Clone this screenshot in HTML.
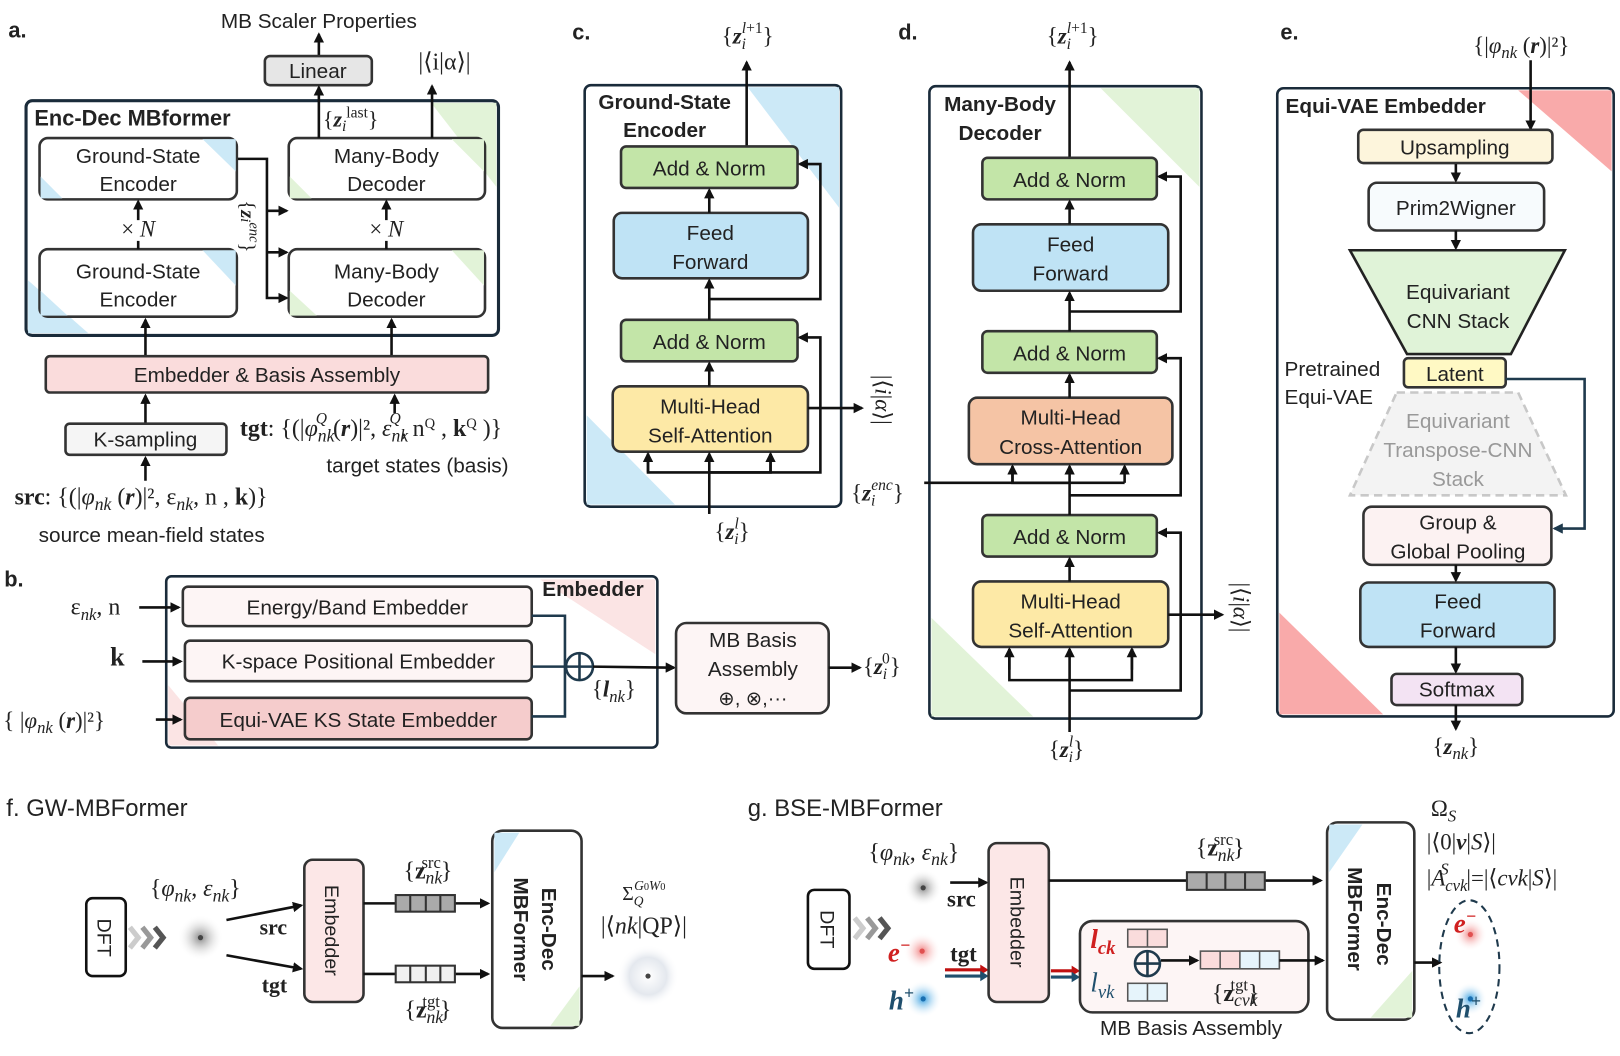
<!DOCTYPE html>
<html><head><meta charset="utf-8"><style>
html,body{margin:0;padding:0;background:#fff;}
svg{display:block;}
text{font-family:"Liberation Sans",sans-serif;fill:#222;}
.m{font-family:"Liberation Serif",serif;}
.b{font-weight:bold;}
.bx{stroke:#333;stroke-width:2.5;}
.ln{stroke:#111;stroke-width:2.5;fill:none;}
</style></head><body>
<svg width="1620" height="1056" viewBox="0 0 1560 1017" xmlns="http://www.w3.org/2000/svg">
<defs>
<marker id="a" viewBox="0 0 10 10" refX="8" refY="5" markerWidth="4" markerHeight="4" orient="auto-start-reverse"><path d="M0,0L10,5L0,10z" fill="#111"/></marker>
<marker id="an" viewBox="0 0 10 10" refX="8" refY="5" markerWidth="4" markerHeight="4" orient="auto"><path d="M0,0L10,5L0,10z" fill="#1f3a4d"/></marker>
<radialGradient id="gg"><stop offset="0" stop-color="#888"/><stop offset="1" stop-color="#fff" stop-opacity="0"/></radialGradient>
<radialGradient id="gr"><stop offset="0" stop-color="#f08080"/><stop offset="1" stop-color="#fff" stop-opacity="0"/></radialGradient>
<radialGradient id="gb"><stop offset="0" stop-color="#3aa0e0"/><stop offset="1" stop-color="#fff" stop-opacity="0"/></radialGradient>
<radialGradient id="gc"><stop offset="0" stop-color="#fff"/><stop offset="0.6" stop-color="#e4e8ee"/><stop offset="1" stop-color="#fff" stop-opacity="0"/></radialGradient>
</defs>

<!-- ===== Panel a ===== -->
<text x="8" y="36" font-size="21" class="b">a.</text>
<text x="307" y="27" font-size="20" text-anchor="middle">MB Scaler Properties</text>
<line x1="307" y1="54" x2="307" y2="33" class="ln" marker-end="url(#a)"/>
<rect x="255" y="54" width="103" height="28" rx="5" fill="#e6e6e6" class="bx"/>
<text x="306" y="75" font-size="20" text-anchor="middle">Linear</text>
<text x="428" y="67" font-size="23" class="m" text-anchor="middle">|⟨i|α⟩|</text>
<rect x="25" y="97" width="455" height="226" rx="6" fill="#fff" stroke="#1a2b3a" stroke-width="3"/>
<polygon points="27,270 27,321 85,321" fill="#cce9f7"/>
<polygon points="415,99 478,99 478,180" fill="#e2f3d8"/>
<text x="33" y="121" font-size="21" class="b">Enc-Dec MBformer</text>
<g font-size="20" text-anchor="middle">
<rect x="38" y="133" width="190" height="59" rx="8" fill="#fff" class="bx"/>
<polygon points="39,170 39,191 60,191" fill="#cce9f7"/><polygon points="195,134 227,134 227,165" fill="#cce9f7"/>
<text x="133" y="157">Ground-State</text><text x="133" y="184">Encoder</text>
<rect x="38" y="240" width="190" height="65" rx="8" fill="#fff" class="bx"/>
<polygon points="39,280 39,304 65,304" fill="#cce9f7"/><polygon points="195,241 227,241 227,275" fill="#cce9f7"/>
<text x="133" y="268">Ground-State</text><text x="133" y="295">Encoder</text>
<rect x="278" y="133" width="189" height="59" rx="8" fill="#fff" class="bx"/>
<polygon points="279,170 279,191 300,191" fill="#e2f3d8"/><polygon points="435,134 466,134 466,165" fill="#e2f3d8"/>
<text x="372" y="157">Many-Body</text><text x="372" y="184">Decoder</text>
<rect x="278" y="240" width="189" height="65" rx="8" fill="#fff" class="bx"/>
<polygon points="279,280 279,304 305,304" fill="#e2f3d8"/><polygon points="435,241 466,241 466,275" fill="#e2f3d8"/>
<text x="372" y="268">Many-Body</text><text x="372" y="295">Decoder</text>
</g>
<line x1="133" y1="212" x2="133" y2="194" class="ln" marker-end="url(#a)"/>
<line x1="133" y1="240" x2="133" y2="232" class="ln"/>
<text x="133" y="228" font-size="22" text-anchor="middle" class="m">× <tspan font-style="italic">N</tspan></text>
<line x1="372" y1="212" x2="372" y2="194" class="ln" marker-end="url(#a)"/>
<line x1="372" y1="240" x2="372" y2="232" class="ln"/>
<text x="372" y="228" font-size="22" text-anchor="middle" class="m">× <tspan font-style="italic">N</tspan></text>
<polyline points="229,153 257,153 257,287 276,287" class="ln" marker-end="url(#a)"/>
<line x1="257" y1="203" x2="276" y2="203" class="ln" marker-end="url(#a)"/>
<line x1="257" y1="243" x2="276" y2="243" class="ln" marker-end="url(#a)"/>
<text transform="translate(232,218) rotate(90)" font-size="20" text-anchor="middle" class="m">{<tspan font-weight="bold" font-style="italic">z</tspan><tspan font-size="14" font-style="italic">i</tspan><tspan font-size="14" dy="-8" font-style="italic">enc</tspan><tspan dy="8">}</tspan></text>
<line x1="307" y1="133" x2="307" y2="84" class="ln" marker-end="url(#a)"/>
<line x1="416" y1="133" x2="416" y2="83" class="ln" marker-end="url(#a)"/>
<text x="311" y="122" font-size="21" class="m">{<tspan font-weight="bold" font-style="italic">z</tspan><tspan font-size="15" font-style="italic" dy="4">i</tspan><tspan font-size="15" dy="-13">last</tspan><tspan dy="9">}</tspan></text>
<line x1="140" y1="343" x2="140" y2="308" class="ln" marker-end="url(#a)"/>
<line x1="377" y1="343" x2="377" y2="308" class="ln" marker-end="url(#a)"/>
<rect x="44" y="343" width="426" height="35" rx="4" fill="#fadcdc" class="bx"/>
<text x="257" y="368" font-size="20" text-anchor="middle">Embedder &amp; Basis Assembly</text>
<line x1="140" y1="408" x2="140" y2="381" class="ln" marker-end="url(#a)"/>
<line x1="380" y1="398" x2="380" y2="381" class="ln" marker-end="url(#a)"/>
<rect x="63" y="408" width="155" height="30" rx="4" fill="#f5f5f5" class="bx"/>
<text x="140" y="430" font-size="20" text-anchor="middle">K-sampling</text>
<line x1="140" y1="463" x2="140" y2="441" class="ln" marker-end="url(#a)"/>
<text x="14" y="486" font-size="23" class="m"><tspan font-weight="bold">src</tspan>: {(|<tspan font-style="italic">φ</tspan><tspan font-size="17" font-style="italic" dy="5">nk</tspan><tspan dy="-5"> (</tspan><tspan font-weight="bold" font-style="italic">r</tspan>)|², ε<tspan font-size="17" font-style="italic" dy="5">nk</tspan><tspan dy="-5">, n , </tspan><tspan font-weight="bold">k</tspan>)}</text>
<text x="146" y="522" font-size="20" text-anchor="middle">source mean-field states</text>
<text x="231" y="420" font-size="23" class="m"><tspan font-weight="bold">tgt</tspan>: {(|<tspan font-style="italic">φ</tspan><tspan font-size="17" font-style="italic" dy="5">nk</tspan><tspan font-size="15" font-style="italic" dx="-18" dy="-17">Q</tspan><tspan dy="12"> (</tspan><tspan font-weight="bold" font-style="italic">r</tspan>)|², <tspan font-style="italic">ε</tspan><tspan font-size="17" font-style="italic" dy="5">nk</tspan><tspan font-size="15" font-style="italic" dx="-18" dy="-17">Q</tspan><tspan dy="12">, n</tspan><tspan font-size="14" dy="-8">Q</tspan><tspan dy="8"> , </tspan><tspan font-weight="bold">k</tspan><tspan font-size="14" dy="-8">Q</tspan><tspan dy="8"> )}</tspan></text>
<text x="402" y="455" font-size="20" text-anchor="middle">target states (basis)</text>

<!-- ===== Panel b ===== -->
<text x="4" y="565" font-size="21" class="b">b.</text>
<rect x="160" y="555" width="473" height="165" rx="5" fill="#fff" stroke="#1a2b3a" stroke-width="2.5"/>
<polygon points="520,558 631,558 631,630" fill="#fbe4e4"/>
<polygon points="162,660 162,718 210,718" fill="#fbe4e4"/>
<text x="571" y="574" font-size="20" class="b" text-anchor="middle">Embedder</text>
<rect x="176" y="565" width="336" height="38" rx="5" fill="#fdf5f5" class="bx"/>
<text x="344" y="592" font-size="20" text-anchor="middle">Energy/Band Embedder</text>
<rect x="178" y="617" width="334" height="39" rx="5" fill="#fdf5f5" class="bx"/>
<text x="345" y="644" font-size="20" text-anchor="middle">K-space Positional Embedder</text>
<rect x="178" y="672" width="334" height="40" rx="5" fill="#f5cccc" class="bx"/>
<text x="345" y="700" font-size="20" text-anchor="middle">Equi-VAE KS State Embedder</text>
<polyline points="512,593 544,593 544,690 512,690" stroke="#1f3a4d" stroke-width="2.5" fill="none"/>
<line x1="512" y1="642" x2="545" y2="642" stroke="#1f3a4d" stroke-width="2.5"/>
<circle cx="558" cy="642" r="13" fill="none" stroke="#1f3a4d" stroke-width="2.5"/>
<line x1="545" y1="642" x2="571" y2="642" stroke="#1f3a4d" stroke-width="2.5"/><line x1="558" y1="629" x2="558" y2="655" stroke="#1f3a4d" stroke-width="2.5"/>
<line x1="571" y1="642" x2="649" y2="643" class="ln" marker-end="url(#a)"/>
<text x="570" y="671" font-size="22" class="m">{<tspan font-weight="bold" font-style="italic">l</tspan><tspan font-size="16" font-style="italic" dy="5">nk</tspan><tspan dy="-5">}</tspan></text>
<rect x="651" y="600" width="147" height="87" rx="10" fill="#fdf5f5" class="bx"/>
<text x="725" y="623" font-size="20" text-anchor="middle">MB Basis</text>
<text x="725" y="651" font-size="20" text-anchor="middle">Assembly</text>
<text x="725" y="679" font-size="19" text-anchor="middle">⊕, ⊗,···</text>
<line x1="798" y1="643" x2="828" y2="643" class="ln" marker-end="url(#a)"/>
<text x="831" y="649" font-size="22" class="m">{<tspan font-weight="bold" font-style="italic">z</tspan><tspan font-size="15" font-style="italic" dy="5">i</tspan><tspan font-size="15" dx="-5" dy="-15">0</tspan><tspan dy="10">}</tspan></text>
<text x="68" y="592" font-size="23" class="m">ε<tspan font-size="16" font-style="italic" dy="5">nk</tspan><tspan dy="-5">, n</tspan></text>
<line x1="134" y1="585" x2="172" y2="585" class="ln" marker-end="url(#a)"/>
<text x="106" y="641" font-size="25" class="m b">k</text>
<line x1="137" y1="637" x2="174" y2="637" class="ln" marker-end="url(#a)"/>
<text x="3" y="701" font-size="22" class="m">{ |<tspan font-style="italic">φ</tspan><tspan font-size="16" font-style="italic" dy="5">nk</tspan><tspan dy="-5"> (</tspan><tspan font-weight="bold" font-style="italic">r</tspan>)|²}</text>
<line x1="150" y1="693" x2="174" y2="693" class="ln" marker-end="url(#a)"/>

<!-- ===== Panel c ===== -->
<text x="551" y="38" font-size="21" class="b">c.</text>
<rect x="563" y="82" width="247" height="406" rx="6" fill="#fff" stroke="#1a2b3a" stroke-width="2.5"/>
<polygon points="720,84 808,84 808,200" fill="#cce9f7"/>
<polygon points="565,400 565,486 650,486" fill="#cce9f7"/>
<text x="640" y="105" font-size="20" class="b" text-anchor="middle">Ground-State</text>
<text x="640" y="132" font-size="20" class="b" text-anchor="middle">Encoder</text>
<line x1="719" y1="141" x2="719" y2="60" class="ln" marker-end="url(#a)"/>
<text x="720" y="42" font-size="22" class="m" text-anchor="middle">{<tspan font-weight="bold" font-style="italic">z</tspan><tspan font-size="15" font-style="italic" dy="5">i</tspan><tspan font-size="15" font-style="italic" dx="-4" dy="-15">l</tspan><tspan font-size="15">+1</tspan><tspan dy="10">}</tspan></text>
<g font-size="20" text-anchor="middle">
<rect x="598" y="141" width="170" height="40" rx="5" fill="#c3e5a8" class="bx"/><text x="683" y="169">Add &amp; Norm</text>
<rect x="591" y="205" width="187" height="63" rx="8" fill="#bfe3f5" class="bx"/><text x="684" y="231">Feed</text><text x="684" y="259">Forward</text>
<rect x="598" y="308" width="170" height="40" rx="5" fill="#c3e5a8" class="bx"/><text x="683" y="336">Add &amp; Norm</text>
<rect x="590" y="372" width="188" height="63" rx="8" fill="#fde9a6" class="bx"/><text x="684" y="398">Multi-Head</text><text x="684" y="426">Self-Attention</text>
</g>
<line x1="683" y1="205" x2="683" y2="183" class="ln" marker-end="url(#a)"/>
<line x1="683" y1="308" x2="683" y2="270" class="ln" marker-end="url(#a)"/>
<line x1="683" y1="372" x2="683" y2="350" class="ln" marker-end="url(#a)"/>
<polyline points="683,288 790,288 790,158 770,158" class="ln" marker-end="url(#a)"/>
<polyline points="683,455 790,455 790,325 770,325" class="ln" marker-end="url(#a)"/>
<line x1="683" y1="495" x2="683" y2="437" class="ln" marker-end="url(#a)"/>
<polyline points="624,437 624,455 742,455 742,437" class="ln"/>
<line x1="624" y1="455" x2="624" y2="437" class="ln" marker-end="url(#a)"/>
<line x1="742" y1="455" x2="742" y2="437" class="ln" marker-end="url(#a)"/>
<text x="705" y="519" font-size="22" class="m" text-anchor="middle">{<tspan font-weight="bold" font-style="italic">z</tspan><tspan font-size="15" font-style="italic" dy="5">i</tspan><tspan font-size="15" font-style="italic" dx="-4" dy="-15">l</tspan><tspan dy="10">}</tspan></text>
<line x1="778" y1="393" x2="830" y2="393" class="ln" marker-end="url(#a)"/>
<text transform="translate(843,385) rotate(90)" font-size="22" class="m" text-anchor="middle">|⟨<tspan font-style="italic">i</tspan>|<tspan font-style="italic">α</tspan>⟩|</text>

<!-- ===== Panel d ===== -->
<text x="865" y="38" font-size="21" class="b">d.</text>
<rect x="895" y="83" width="262" height="609" rx="6" fill="#fff" stroke="#1a2b3a" stroke-width="2.5"/>
<polygon points="1060,85 1155,85 1155,180" fill="#e2f3d8"/>
<polygon points="897,595 897,690 995,690" fill="#e2f3d8"/>
<text x="963" y="107" font-size="20" class="b" text-anchor="middle">Many-Body</text>
<text x="963" y="135" font-size="20" class="b" text-anchor="middle">Decoder</text>
<line x1="1030" y1="152" x2="1030" y2="60" class="ln" marker-end="url(#a)"/>
<text x="1033" y="42" font-size="22" class="m" text-anchor="middle">{<tspan font-weight="bold" font-style="italic">z</tspan><tspan font-size="15" font-style="italic" dy="5">i</tspan><tspan font-size="15" font-style="italic" dx="-4" dy="-15">l</tspan><tspan font-size="15">+1</tspan><tspan dy="10">}</tspan></text>
<g font-size="20" text-anchor="middle">
<rect x="946" y="152" width="168" height="40" rx="5" fill="#c3e5a8" class="bx"/><text x="1030" y="180">Add &amp; Norm</text>
<rect x="937" y="216" width="188" height="64" rx="8" fill="#bfe3f5" class="bx"/><text x="1031" y="242">Feed</text><text x="1031" y="270">Forward</text>
<rect x="946" y="319" width="168" height="40" rx="5" fill="#c3e5a8" class="bx"/><text x="1030" y="347">Add &amp; Norm</text>
<rect x="933" y="383" width="196" height="64" rx="8" fill="#f5c4a5" class="bx"/><text x="1031" y="409">Multi-Head</text><text x="1031" y="437">Cross-Attention</text>
<rect x="946" y="496" width="168" height="40" rx="5" fill="#c3e5a8" class="bx"/><text x="1030" y="524">Add &amp; Norm</text>
<rect x="937" y="560" width="188" height="63" rx="8" fill="#fde9a6" class="bx"/><text x="1031" y="586">Multi-Head</text><text x="1031" y="614">Self-Attention</text>
</g>
<line x1="1030" y1="216" x2="1030" y2="194" class="ln" marker-end="url(#a)"/>
<line x1="1030" y1="319" x2="1030" y2="282" class="ln" marker-end="url(#a)"/>
<line x1="1030" y1="383" x2="1030" y2="361" class="ln" marker-end="url(#a)"/>
<line x1="1030" y1="496" x2="1030" y2="449" class="ln" marker-end="url(#a)"/>
<line x1="1030" y1="560" x2="1030" y2="538" class="ln" marker-end="url(#a)"/>
<polyline points="1030,300 1137,300 1137,170 1116,170" class="ln" marker-end="url(#a)"/>
<polyline points="1030,477 1137,477 1137,345 1116,345" class="ln" marker-end="url(#a)"/>
<polyline points="1030,665 1137,665 1137,513 1116,513" class="ln" marker-end="url(#a)"/>
<polyline points="975,449 975,465 1030,465" class="ln"/>
<line x1="975" y1="465" x2="975" y2="449" class="ln" marker-end="url(#a)"/>
<line x1="890" y1="465" x2="1083" y2="465" class="ln"/>
<line x1="1083" y1="465" x2="1083" y2="449" class="ln" marker-end="url(#a)"/>
<text x="845" y="482" font-size="22" class="m" text-anchor="middle">{<tspan font-weight="bold" font-style="italic">z</tspan><tspan font-size="15" font-style="italic" dy="5">i</tspan><tspan font-size="15" font-style="italic" dx="-4" dy="-15">enc</tspan><tspan dy="10">}</tspan></text>
<line x1="1030" y1="705" x2="1030" y2="625" class="ln" marker-end="url(#a)"/>
<polyline points="972,625 972,655 1090,655 1090,625" class="ln"/>
<line x1="972" y1="645" x2="972" y2="625" class="ln" marker-end="url(#a)"/>
<line x1="1090" y1="645" x2="1090" y2="625" class="ln" marker-end="url(#a)"/>
<text x="1027" y="729" font-size="22" class="m" text-anchor="middle">{<tspan font-weight="bold" font-style="italic">z</tspan><tspan font-size="15" font-style="italic" dy="5">i</tspan><tspan font-size="15" font-style="italic" dx="-4" dy="-15">l</tspan><tspan dy="10">}</tspan></text>
<line x1="1125" y1="592" x2="1177" y2="592" class="ln" marker-end="url(#a)"/>
<text transform="translate(1188,585) rotate(90)" font-size="22" class="m" text-anchor="middle">|⟨<tspan font-style="italic">i</tspan>|<tspan font-style="italic">α</tspan>⟩|</text>

<!-- ===== Panel e ===== -->
<text x="1233" y="38" font-size="21" class="b">e.</text>
<text x="1465" y="51" font-size="22" class="m" text-anchor="middle">{|<tspan font-style="italic">φ</tspan><tspan font-size="16" font-style="italic" dy="5">nk</tspan><tspan dy="-5"> (</tspan><tspan font-weight="bold" font-style="italic">r</tspan>)|²}</text>
<rect x="1230" y="85" width="324" height="605" rx="6" fill="#fff" stroke="#1a2b3a" stroke-width="2.5"/>
<polygon points="1462,87 1552,87 1552,165" fill="#f9aaaa"/>
<polygon points="1232,590 1232,688 1332,688" fill="#f9aaaa"/>
<text x="1238" y="109" font-size="20" class="b">Equi-VAE Embedder</text>
<line x1="1474" y1="58" x2="1474" y2="124" class="ln" marker-end="url(#a)"/>
<g font-size="20" text-anchor="middle">
<rect x="1308" y="125" width="187" height="32" rx="5" fill="#fdf5dc" class="bx"/><text x="1401" y="149">Upsampling</text>
<rect x="1318" y="176" width="169" height="46" rx="8" fill="#f7fbfd" class="bx"/><text x="1402" y="207">Prim2Wigner</text>
<polygon points="1300,241 1507,241 1455,341 1355,341" fill="#e0f3d8" stroke="#222" stroke-width="2.5"/>
<text x="1404" y="288">Equivariant</text><text x="1404" y="316">CNN Stack</text>
<rect x="1352" y="345" width="98" height="28" rx="4" fill="#fff9c4" class="bx"/><text x="1401" y="367">Latent</text>
<polygon points="1345,378 1462,378 1508,477 1300,477" fill="#f3f3f3" stroke="#c8c8c8" stroke-width="2.5" stroke-dasharray="8,5"/>
<text x="1404" y="412" style="fill:#999">Equivariant</text><text x="1404" y="440" style="fill:#999">Transpose-CNN</text><text x="1404" y="468" style="fill:#999">Stack</text>
<rect x="1313" y="488" width="181" height="56" rx="8" fill="#fcf2f2" class="bx"/><text x="1404" y="510">Group &amp;</text><text x="1404" y="538">Global Pooling</text>
<rect x="1310" y="561" width="187" height="62" rx="8" fill="#bfe3f5" class="bx"/><text x="1404" y="586">Feed</text><text x="1404" y="614">Forward</text>
<rect x="1340" y="649" width="126" height="30" rx="5" fill="#f3e3f3" class="bx"/><text x="1403" y="671">Softmax</text>
</g>
<text x="1237" y="362" font-size="20">Pretrained</text>
<text x="1237" y="389" font-size="20">Equi-VAE</text>
<line x1="1402" y1="158" x2="1402" y2="174" class="ln" marker-end="url(#a)"/>
<line x1="1402" y1="222" x2="1402" y2="239" class="ln" marker-end="url(#a)"/>
<line x1="1402" y1="544" x2="1402" y2="559" class="ln" marker-end="url(#a)"/>
<line x1="1402" y1="623" x2="1402" y2="647" class="ln" marker-end="url(#a)"/>
<line x1="1402" y1="679" x2="1402" y2="702" class="ln" marker-end="url(#a)"/>
<polyline points="1450,365 1526,365 1526,509 1497,509" stroke="#1f3a4d" stroke-width="2.5" fill="none" marker-end="url(#an)"/>
<text x="1402" y="726" font-size="22" class="m" text-anchor="middle">{<tspan font-weight="bold" font-style="italic">z</tspan><tspan font-size="16" font-style="italic" dy="5">nk</tspan><tspan dy="-5">}</tspan></text>

<!-- ===== Panel f ===== -->
<text x="6" y="786" font-size="23">f. GW-MBFormer</text>
<rect x="83" y="865" width="38" height="75" rx="6" fill="#fff" stroke="#111" stroke-width="2.5"/>
<text transform="translate(94,903) rotate(90)" font-size="19" text-anchor="middle">DFT</text>
<g fill="none" stroke-width="5"><polyline points="125,893 133,903 125,913" stroke="#ccc"/><polyline points="137,893 145,903 137,913" stroke="#999"/><polyline points="149,893 157,903 149,913" stroke="#555"/></g>
<circle cx="193" cy="903" r="22" fill="url(#gg)"/><circle cx="193" cy="903" r="2.5" fill="#444"/>
<text x="188" y="863" font-size="23" class="m" text-anchor="middle">{<tspan font-style="italic">φ</tspan><tspan font-size="17" font-style="italic" dy="5">nk</tspan><tspan dy="-5">, </tspan><tspan font-style="italic">ε</tspan><tspan font-size="17" font-style="italic" dy="5">nk</tspan><tspan dy="-5">}</tspan></text>
<line x1="218" y1="886" x2="290" y2="872" class="ln" marker-end="url(#a)"/>
<line x1="218" y1="920" x2="290" y2="933" class="ln" marker-end="url(#a)"/>
<text x="250" y="900" font-size="21" class="m b">src</text>
<text x="252" y="956" font-size="21" class="m b">tgt</text>
<rect x="293" y="828" width="57" height="137" rx="8" fill="#fce7e7" class="bx"/>
<text transform="translate(313,896) rotate(90)" font-size="19" text-anchor="middle">Embedder</text>
<line x1="350" y1="870" x2="470" y2="870" class="ln" marker-end="url(#a)"/>
<line x1="350" y1="938" x2="470" y2="938" class="ln" marker-end="url(#a)"/>
<g stroke="#333" stroke-width="2"><rect x="381" y="862" width="57" height="16" fill="#aaa"/><line x1="395" y1="862" x2="395" y2="878"/><line x1="410" y1="862" x2="410" y2="878"/><line x1="424" y1="862" x2="424" y2="878"/>
<rect x="381" y="930" width="57" height="16" fill="#f0f0f0"/><line x1="395" y1="930" x2="395" y2="946"/><line x1="410" y1="930" x2="410" y2="946"/><line x1="424" y1="930" x2="424" y2="946"/></g>
<text x="412" y="846" font-size="23" class="m" text-anchor="middle">{<tspan font-weight="bold">z</tspan><tspan font-size="17" font-style="italic" dy="5">nk</tspan><tspan font-size="16" dx="-20" dy="-15">src</tspan><tspan dy="10">}</tspan></text>
<text x="412" y="980" font-size="23" class="m" text-anchor="middle">{<tspan font-weight="bold">z</tspan><tspan font-size="17" font-style="italic" dy="5">nk</tspan><tspan font-size="16" dx="-20" dy="-15">tgt</tspan><tspan dy="10">}</tspan></text>
<rect x="474" y="800" width="86" height="190" rx="10" fill="#fff" class="bx"/>
<polygon points="476,802 500,802 476,840" fill="#cce9f7"/><polygon points="558,950 558,988 530,988" fill="#e2f3d8"/>
<text transform="translate(522,895) rotate(90)" font-size="20" class="b" text-anchor="middle">Enc-Dec</text>
<text transform="translate(495,895) rotate(90)" font-size="20" class="b" text-anchor="middle">MBFormer</text>
<line x1="560" y1="940" x2="590" y2="940" class="ln" marker-end="url(#a)"/>
<circle cx="624" cy="940" r="30" fill="url(#gc)"/><circle cx="624" cy="940" r="2.5" fill="#444"/>
<text x="620" y="867" font-size="19" class="m" text-anchor="middle">Σ<tspan font-size="13" font-style="italic" dy="5">Q</tspan><tspan font-size="13" font-style="italic" dy="-15" dx="-9">G</tspan><tspan font-size="10">0</tspan><tspan font-size="13" font-style="italic">W</tspan><tspan font-size="10">0</tspan></text>
<text x="620" y="899" font-size="23" class="m" text-anchor="middle">|⟨<tspan font-style="italic">nk</tspan>|QP⟩|</text>

<!-- ===== Panel g ===== -->
<text x="720" y="786" font-size="23">g. BSE-MBFormer</text>
<rect x="778" y="857" width="40" height="76" rx="6" fill="#fff" stroke="#111" stroke-width="2.5"/>
<text transform="translate(790,895) rotate(90)" font-size="19" text-anchor="middle">DFT</text>
<g fill="none" stroke-width="5"><polyline points="823,884 831,894 823,904" stroke="#ccc"/><polyline points="835,884 843,894 835,904" stroke="#999"/><polyline points="847,884 855,894 847,904" stroke="#555"/></g>
<text x="880" y="828" font-size="23" class="m" text-anchor="middle">{<tspan font-style="italic">φ</tspan><tspan font-size="17" font-style="italic" dy="5">nk</tspan><tspan dy="-5">, </tspan><tspan font-style="italic">ε</tspan><tspan font-size="17" font-style="italic" dy="5">nk</tspan><tspan dy="-5">}</tspan></text>
<circle cx="889" cy="855" r="18" fill="url(#gg)"/><circle cx="889" cy="855" r="2.5" fill="#444"/>
<circle cx="888" cy="916" r="18" fill="url(#gr)"/><circle cx="888" cy="916" r="2.5" fill="#e05050"/>
<circle cx="889" cy="962" r="18" fill="url(#gb)"/><circle cx="889" cy="962" r="2.5" fill="#1a6fb0"/>
<text x="855" y="926" font-size="26" class="m b" font-style="italic" style="fill:#d02020">e<tspan font-size="17" dy="-10">−</tspan></text>
<text x="856" y="972" font-size="26" class="m b" font-style="italic" style="fill:#1f4f6d">h<tspan font-size="17" dy="-10">+</tspan></text>
<line x1="915" y1="850" x2="950" y2="850" class="ln" marker-end="url(#a)"/>
<text x="912" y="873" font-size="22" class="m b">src</text>
<text x="915" y="926" font-size="22" class="m b">tgt</text>
<line x1="910" y1="934" x2="948" y2="934" stroke="#c01010" stroke-width="3"/><polygon points="944,929 952,934 944,939" fill="#c01010"/>
<line x1="910" y1="940" x2="948" y2="940" stroke="#1f4f6d" stroke-width="3"/><polygon points="944,935 952,940 944,945" fill="#1f4f6d"/>
<rect x="952" y="812" width="58" height="153" rx="8" fill="#fce7e7" class="bx"/>
<text transform="translate(973,888) rotate(90)" font-size="19" text-anchor="middle">Embedder</text>
<line x1="1010" y1="848" x2="1272" y2="848" class="ln" marker-end="url(#a)"/>
<g stroke="#333" stroke-width="2"><rect x="1143" y="840" width="75" height="17" fill="#aaa"/><line x1="1162" y1="840" x2="1162" y2="857"/><line x1="1180" y1="840" x2="1180" y2="857"/><line x1="1199" y1="840" x2="1199" y2="857"/></g>
<text x="1175" y="824" font-size="23" class="m" text-anchor="middle">{<tspan font-weight="bold">z</tspan><tspan font-size="17" font-style="italic" dy="5">nk</tspan><tspan font-size="16" dx="-20" dy="-15">src</tspan><tspan dy="10">}</tspan></text>
<line x1="1012" y1="935" x2="1036" y2="935" stroke="#c01010" stroke-width="3"/><polygon points="1032,930 1040,935 1032,940" fill="#c01010"/>
<line x1="1012" y1="941" x2="1036" y2="941" stroke="#1f4f6d" stroke-width="3"/><polygon points="1032,936 1040,941 1032,946" fill="#1f4f6d"/>
<rect x="1040" y="887" width="220" height="88" rx="12" fill="#fdf5f5" class="bx"/>
<g stroke="#555" stroke-width="1.5"><rect x="1086" y="895" width="38" height="17" fill="#fadcdc"/><line x1="1105" y1="895" x2="1105" y2="912"/>
<rect x="1086" y="947" width="38" height="17" fill="#e6f4fb"/><line x1="1105" y1="947" x2="1105" y2="964"/>
<rect x="1156" y="916" width="76" height="17" fill="#fadcdc"/><rect x="1194" y="916" width="38" height="17" fill="#e6f4fb"/><line x1="1175" y1="916" x2="1175" y2="933"/><line x1="1213" y1="916" x2="1213" y2="933"/></g>
<text x="1050" y="913" font-size="26" class="m b" font-style="italic" style="fill:#d02020">l<tspan font-size="18" dy="6">ck</tspan></text>
<text x="1050" y="955" font-size="26" class="m" font-style="italic" style="fill:#1f4f6d">l<tspan font-size="18" dy="6">vk</tspan></text>
<circle cx="1105" cy="928" r="12" fill="none" stroke="#1f3a4d" stroke-width="2.5"/><line x1="1093" y1="928" x2="1117" y2="928" stroke="#1f3a4d" stroke-width="2.5"/><line x1="1105" y1="916" x2="1105" y2="940" stroke="#1f3a4d" stroke-width="2.5"/>
<line x1="1118" y1="925" x2="1153" y2="925" class="ln" marker-end="url(#a)"/>
<line x1="1232" y1="925" x2="1274" y2="925" class="ln" marker-end="url(#a)"/>
<text x="1190" y="964" font-size="23" class="m" text-anchor="middle">{<tspan font-weight="bold">z</tspan><tspan font-size="17" font-style="italic" dy="5">cvk</tspan><tspan font-size="16" dx="-26" dy="-15">tgt</tspan><tspan dy="10">}</tspan></text>
<text x="1147" y="997" font-size="20" text-anchor="middle">MB Basis Assembly</text>
<rect x="1278" y="792" width="84" height="190" rx="10" fill="#fff" class="bx"/>
<polygon points="1280,794 1312,794 1280,840" fill="#cce9f7"/><polygon points="1360,935 1360,980 1320,980" fill="#e2f3d8"/>
<text transform="translate(1326,890) rotate(90)" font-size="20" class="b" text-anchor="middle">Enc-Dec</text>
<text transform="translate(1298,885) rotate(90)" font-size="20" class="b" text-anchor="middle">MBFormer</text>
<line x1="1362" y1="927" x2="1387" y2="927" class="ln" marker-end="url(#a)"/>
<ellipse cx="1415" cy="931" rx="29" ry="64" fill="none" stroke="#1f3a4d" stroke-width="2" stroke-dasharray="7,5"/>
<circle cx="1416" cy="900" r="16" fill="url(#gr)"/><circle cx="1416" cy="900" r="2.5" fill="#e05050"/>
<circle cx="1416" cy="962" r="16" fill="url(#gb)"/><circle cx="1416" cy="962" r="2.5" fill="#1a6fb0"/>
<text x="1400" y="898" font-size="26" class="m b" font-style="italic" style="fill:#d02020">e<tspan font-size="17" dy="-10">−</tspan></text>
<text x="1402" y="980" font-size="26" class="m b" font-style="italic" style="fill:#1f4f6d">h<tspan font-size="17" dy="-10">+</tspan></text>
<text x="1378" y="786" font-size="22" class="m">Ω<tspan font-size="16" font-style="italic" dy="5">S</tspan></text>
<text x="1374" y="818" font-size="22" class="m">|⟨0|<tspan font-weight="bold" font-style="italic">v</tspan>|<tspan font-style="italic">S</tspan>⟩|</text>
<text x="1374" y="853" font-size="22" class="m">|<tspan font-style="italic">A</tspan><tspan font-size="16" font-style="italic" dy="5">cvk</tspan><tspan font-size="16" font-style="italic" dx="-26" dy="-16">S</tspan><tspan dx="17" dy="11">|=|⟨</tspan><tspan font-style="italic">cvk</tspan>|<tspan font-style="italic">S</tspan>⟩|</text>
</svg>
</body></html>
